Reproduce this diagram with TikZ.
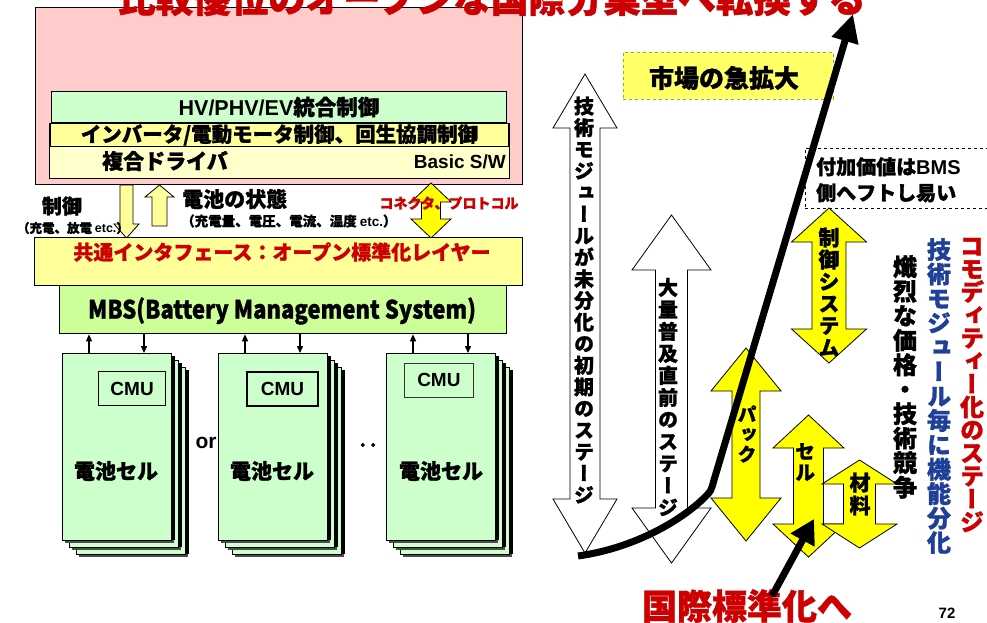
\documentclass[tikz,border=0pt]{standalone}
\usepackage{fontspec}
\usepackage{graphicx}
\setmainfont{Noto Sans CJK JP}[BoldFeatures={FakeBold=1.2}]
\newfontfamily\jpv{Noto Sans CJK JP}[RawFeature=+vert, BoldFeatures={FakeBold=1.2}]
\newfontfamily\ar{Liberation Sans}
\usetikzlibrary{arrows.meta}
\definecolor{pinkbg}{HTML}{FFCCCC}
\definecolor{lgreen}{HTML}{CCFFCC}
\definecolor{lyel}{HTML}{FFFF99}
\definecolor{pyel}{HTML}{FFFFCC}
\definecolor{mbsg}{HTML}{CCFF99}
\definecolor{byel}{HTML}{FFFF00}
\definecolor{mktc}{HTML}{FFFF66}
\definecolor{tred}{HTML}{CC0000}
\definecolor{tblue}{HTML}{1F3F99}
\makeatletter
% vertical stack of characters: #1 pitch, #2 text
\newcommand\vstack[2]{\vbox{\baselineskip=#1\relax\lineskiplimit=-100pt\lineskip=0pt
  \@tfor\vt@c:=#2\do{\hbox to 1em{\hss\vt@c\hss}}}}
\makeatother
% double block arrow: #1 style, #2 cx, #3 ytop, #4 ybot, #5 half width, #6 half shaft, #7 head length
\newcommand\dblarrow[7]{%
  \draw[#1] (#2,#3) -- ({#2+#5},{#3+#7}) -- ({#2+#6},{#3+#7}) -- ({#2+#6},{#4-#7})
    -- ({#2+#5},{#4-#7}) -- (#2,#4) -- ({#2-#5},{#4-#7}) -- ({#2-#6},{#4-#7})
    -- ({#2-#6},{#3+#7}) -- ({#2-#5},{#3+#7}) -- cycle;}
% stacked cell cards: #1 name, #2 x
\newcommand\cellstack[2]{%
  \foreach \o in {14,7}{%
    \fill[black!70] ({#2+\o+3},{356+\o}) rectangle ++(109,187);
    \fill[black] ({#2+\o+109},{356+\o}) rectangle ++(4,184);
    \draw[line width=1pt, fill=lgreen] ({#2+\o},{353+\o}) rectangle ++(109,187);
  }
  \fill[black!70] ({#2+3},356) rectangle ++(109,187);
  \fill[black] ({#2+109},356) rectangle ++(4,184);
  \node[box, fill=lgreen, minimum width=109, minimum height=187] (#1) at (#2,353) {};
}
\begin{document}
\begin{tikzpicture}[x=1pt,y=-1pt,
  box/.style={draw=black, line width=1.3pt, inner sep=0pt, anchor=north west},
  lbl/.style={inner sep=0pt},
  blk/.style={draw=black, line width=0.8pt, line join=miter},
  sarr/.style={line width=1.4pt, -{Triangle[length=7pt,width=6pt]}},
  bigarr/.style={line width=7pt, -{Triangle[length=28pt,width=26pt]}},
  vt/.style={inner sep=0pt, font=\jpv\bfseries},
]
\clip (0,0) rectangle (987,622);
\fill[white] (0,0) rectangle (987,622);

% ---------------- left: vehicle control box ----------------
\node[box, fill=pinkbg, minimum width=487, minimum height=177] (veh) at (35,7) {};
\node[box, line width=1pt, fill=lgreen, minimum width=455, minimum height=31,
      font=\fontsize{21.5}{21.5}\selectfont\bfseries] (hv) at (51,91) {{\ar HV/PHV/EV}統合制御};
\node[box, line width=1pt, fill=pyel, minimum width=460, minimum height=55] (drv) at (49,123) {};
\node[box, line width=1pt, fill=lyel, minimum width=458, minimum height=23,
      font=\fontsize{20.5}{20.5}\selectfont\bfseries] (inv) at (50,123) {インバータ/電動モータ制御、回生協調制御};
\node[lbl, font=\fontsize{21}{21}\selectfont\bfseries] (fuku) at (165,161) {複合ドライバ};
\node[lbl, anchor=east, font=\ar\fontsize{19}{19}\selectfont\bfseries] (bsw) at (506,162) {Basic S/W};

% ---------------- arrows between ----------------
\draw[blk, fill=lyel] (120,185) -- (133,185) -- (133,224) -- (139,224) -- (126.5,238) -- (114,224) -- (120,224) -- cycle;
\draw[blk, fill=lyel] (159.5,185) -- (174,197) -- (167,197) -- (167,226) -- (152,226) -- (152,197) -- (145,197) -- cycle;
\node[lbl, font=\fontsize{20}{20}\selectfont\bfseries] (seigyo) at (62,206) {制御};
\node[lbl, font=\fontsize{12.5}{13}\selectfont\bfseries] (seigyo2) at (73,228) {（充電、放電 {\ar etc.}）};
\node[lbl, anchor=west, font=\fontsize{21}{21}\selectfont\bfseries] (state) at (182,199) {電池の状態};
\node[lbl, anchor=west, font=\fontsize{13.5}{14}\selectfont\bfseries] (state2) at (181,221) {（充電量、電圧、電流、温度 {\ar etc.}）};
\dblarrow{blk, fill=byel}{431}{183}{238}{20}{9.5}{19}
\coordinate (conn) at (431,210);
\node[lbl, text=tred, font=\fontsize{14}{14}\selectfont\bfseries] (connl) at (449,203) {コネクタ、プロトコル};

% ---------------- interface and BMS ----------------
\node[box, fill=lyel, minimum width=488, minimum height=48] (intf) at (34,237) {};
\node[lbl, text=tred, font=\fontsize{20}{20}\selectfont\bfseries] (intfl) at (282,252) {共通インタフェース：オープン標準化レイヤー};
\node[box, fill=mbsg, minimum width=447, minimum height=48] (mbs) at (59,285) {};
\node[lbl, font=\fontsize{21}{21}\selectfont\bfseries] (mbsl) at (282,311) {\scalebox{1.05}[1.2]{MBS(Battery Management System)}};

% ---------------- cells ----------------
\cellstack{c1}{62}
\cellstack{c2}{218}
\cellstack{c3}{386}
\node[box, line width=1.2pt, fill=lgreen, minimum width=67, minimum height=34,
      font=\ar\fontsize{19}{19}\selectfont\bfseries] (cmu1) at (98,371) {CMU};
\node[box, line width=2pt, fill=lgreen, minimum width=71, minimum height=34,
      font=\ar\fontsize{19}{19}\selectfont\bfseries] (cmu2) at (246,371) {CMU};
\node[box, line width=0.8pt, draw=black!80, fill=lgreen, minimum width=69, minimum height=34,
      font=\ar\fontsize{19}{19}\selectfont\bfseries] (cmu3) at (404,363) {CMU};
\foreach \n/\x in {1/116,2/272,3/441}{
  \node[lbl, font=\fontsize{21}{21}\selectfont\bfseries] (cellt\n) at (\x,471) {電池セル};
}
\node[lbl, font=\ar\fontsize{21}{21}\selectfont\bfseries] (orl) at (206,443) {or};
\node[lbl, font=\fontsize{21}{21}\selectfont\bfseries] (dots) at (368,448) {‥};
\foreach \c in {c1,c2,c3}{
  \coordinate (\c u) at ([xshift=27pt]\c.north west);
  \coordinate (\c d) at ([xshift=82pt]\c.north west);
  \draw[sarr] (\c u) -- (\c u |- mbs.south);
  \draw[sarr] (\c d |- mbs.south) -- (\c d);
}

% ---------------- title ----------------
\node[lbl, text=tred, font=\fontsize{37.5}{38}\selectfont\bfseries] (title) at (492,-2) {比較優位のオープンな国際分業型へ転換する};

% ---------------- right side ----------------
\node[draw=yellow!60!black, dashed, fill=mktc, minimum width=210, minimum height=47,
      anchor=north west, inner sep=0pt] (mkt) at (623,52) {};
\node[lbl, font=\fontsize{25}{25}\selectfont\bfseries] (mktl) at (724,78) {市場の急拡大};

\dblarrow{blk, fill=white}{585}{74}{553}{32}{15}{54}
\coordinate (stage1) at (585,300);
\dblarrow{blk, fill=white}{671.5}{215}{563}{39.5}{16}{55}
\coordinate (stage2) at (671.5,397);

\node[draw=black, dashed, line width=0.6pt, minimum width=182, minimum height=60,
      anchor=north west, inner sep=0pt] (bmsbox) at (805,148) {};
\node[lbl, anchor=north west, align=left, font=\fontsize{20}{26}\selectfont\bfseries] (bmsl) at (816,157) {付加価値は{\ar BMS}\\側へフトし易い};

\dblarrow{blk, fill=byel}{829}{208}{363}{37.5}{17}{34}
\coordinate (sys) at (829,285);
\dblarrow{blk, fill=byel}{746}{348}{541}{35}{14}{43}
\coordinate (pack) at (746,445);
\dblarrow{blk, fill=byel}{808.5}{415}{557}{35.5}{15}{33}
\coordinate (cell) at (808.5,486);
\dblarrow{blk, fill=byel}{859.5}{460}{548}{37.5}{16}{24}
\coordinate (mat) at (859.5,504);

% market curve
\coordinate (cstart) at (578,556);
\coordinate (ctip) at (853,14);
\draw[bigarr, line cap=butt] (cstart) .. controls (635,548) and (682,520) .. (705,497)
   .. controls (711,491) .. (714,480) -- (ctip);

% vertical texts
\node[vt, font=\jpv\bfseries\fontsize{20}{20}\selectfont] (t1) at (584,300) {\vstack{21.6pt}{技術モジュールが未分化の初期のステージ}};
\node[vt, font=\jpv\bfseries\fontsize{20}{20}\selectfont] (t2) at (668,397) {\vstack{22pt}{大量普及直前のステージ}};
\node[vt, font=\jpv\bfseries\fontsize{21}{21}\selectfont] (t3) at (829,292) {\vstack{22pt}{制御システム}};
\node[vt, font=\jpv\bfseries\fontsize{19}{19}\selectfont] (t4) at (747,434) {\vstack{20pt}{パック}};
\node[vt, font=\jpv\bfseries\fontsize{20}{20}\selectfont] (t5) at (805,462) {\vstack{21pt}{セル}};
\node[vt, font=\jpv\bfseries\fontsize{21}{21}\selectfont] (t6) at (860,494) {\vstack{23pt}{材料}};
\node[vt, font=\jpv\bfseries\fontsize{24}{24}\selectfont] (t7) at (905,377) {\vstack{24.5pt}{熾烈な価格・技術競争}};
\node[vt, text=tblue, font=\jpv\bfseries\fontsize{24}{24}\selectfont] (t8) at (939,396) {\vstack{24.4pt}{技術モジュール毎に機能分化}};
\node[vt, text=tred, font=\jpv\bfseries\fontsize{24}{24}\selectfont] (t9) at (972,385) {\vstack{23pt}{コモディティー化のステージ}};

% standardisation
\node[lbl, text=tred, font=\fontsize{35}{35}\selectfont\bfseries] (std) at (747,606) {国際標準化へ};
\coordinate (stdtail) at (772,596);
\coordinate (stdtip) at (814,519);
\draw[line width=7pt, -{Triangle[length=24pt,width=26pt]}] (stdtail) -- (stdtip);

\node[lbl, font=\ar\fontsize{15}{15}\selectfont\bfseries] (pnum) at (947,613) {72};
\end{tikzpicture}
\end{document}
